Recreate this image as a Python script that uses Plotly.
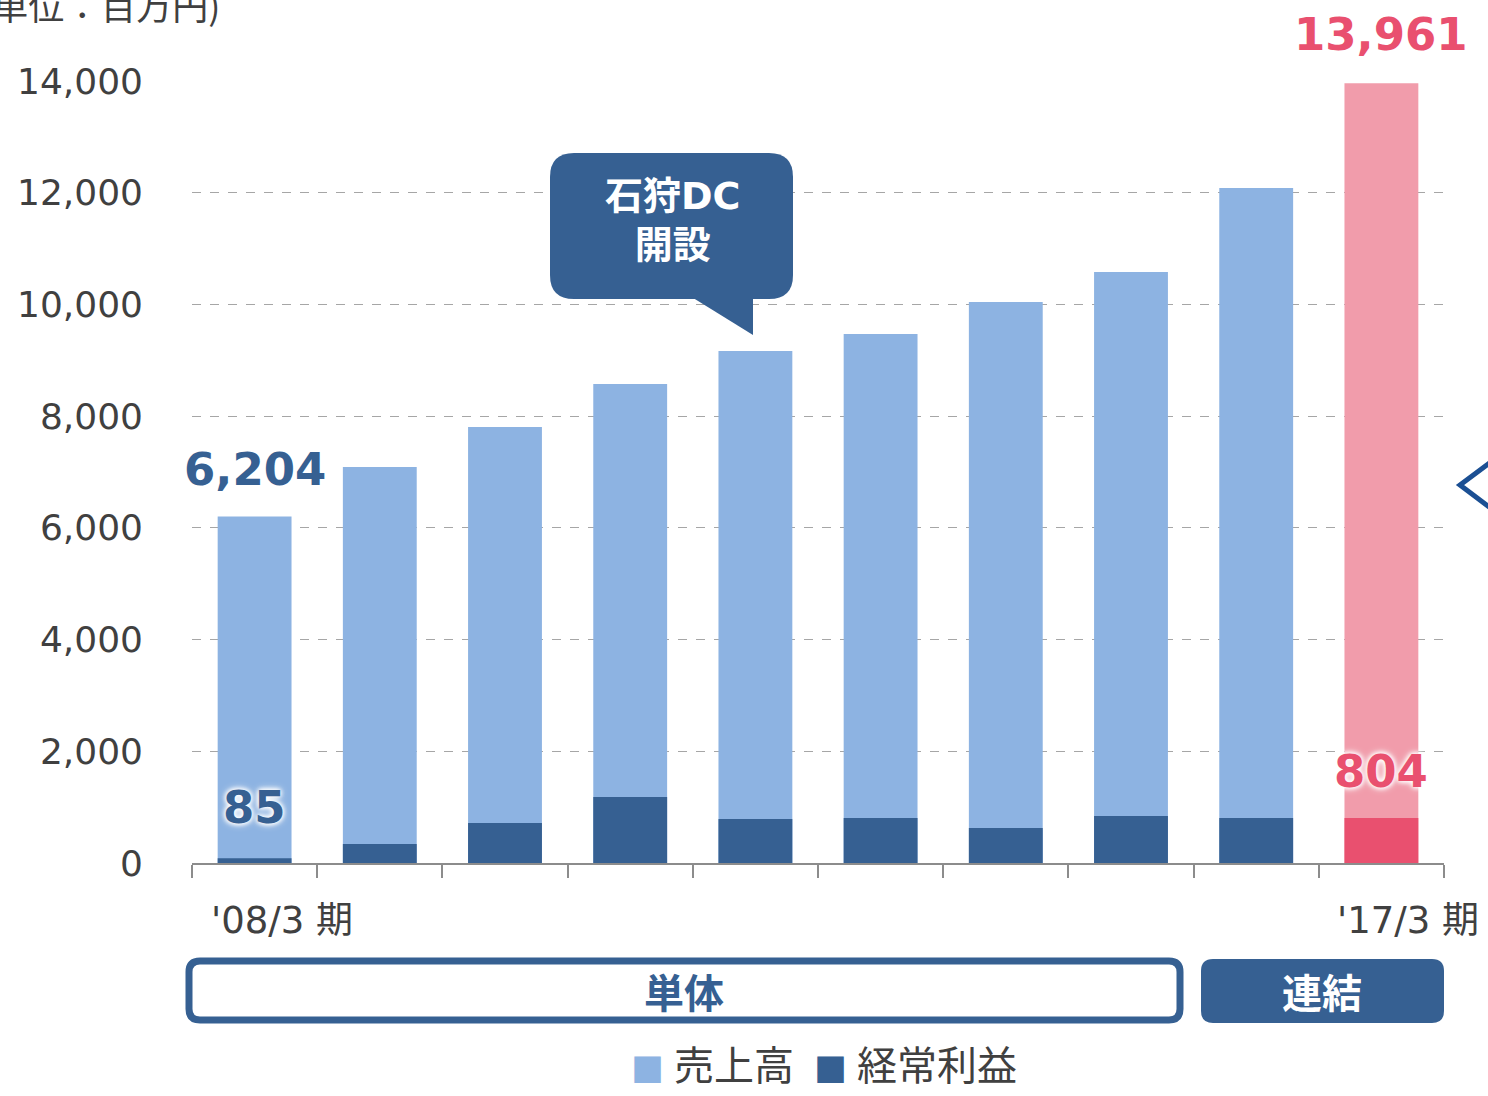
import plotly.graph_objects as go

# ---------------- data ----------------
periods = ["'08/3", "'09/3", "'10/3", "'11/3", "'12/3", "'13/3", "'14/3", "'15/3", "'16/3", "'17/3"]
sales = [6204, 7090, 7805, 8575, 9166, 9470, 10043, 10580, 12084, 13961]
ordinary_profit = [85, 340, 716, 1181, 788, 806, 627, 841, 806, 804]
y_ticks = [0, 2000, 4000, 6000, 8000, 10000, 12000, 14000]
segment_labels = ["単体", "連結"]
legend_labels = ["売上高", "経常利益"]
unit_label = "(単位：百万円)"
callout_label = "石狩DC<br>開設"

# ---------------- styles ----------------
LIGHT = "#8DB3E2"
DARK = "#366092"
PINK_L = "#F19CAB"
PINK_D = "#E9506F"
TXT = "#404040"
LAT = "DejaVu Sans, Noto Sans CJK JP, sans-serif"
CJK = "Noto Sans CJK JP, DejaVu Sans, sans-serif"

W, H = 1488, 1096
ML, MR, MT, MB = 192, 44, 81, 233
PW, PH = W - ML - MR, H - MT - MB


def px(x):
    return (x - ML) / PW


def py(y):
    return (H - MB - y) / PH


def rrect(x0, y0, x1, y1, r):
    pts = [
        f"M {px(x0 + r)},{py(y0)}",
        f"L {px(x1 - r)},{py(y0)}",
        f"Q {px(x1)},{py(y0)} {px(x1)},{py(y0 + r)}",
        f"L {px(x1)},{py(y1 - r)}",
        f"Q {px(x1)},{py(y1)} {px(x1 - r)},{py(y1)}",
        f"L {px(x0 + r)},{py(y1)}",
        f"Q {px(x0)},{py(y1)} {px(x0)},{py(y1 - r)}",
        f"L {px(x0)},{py(y0 + r)}",
        f"Q {px(x0)},{py(y0)} {px(x0 + r)},{py(y0)}",
        "Z",
    ]
    return " ".join(pts)


n = len(periods)
sales_colors = [LIGHT] * (n - 1) + [PINK_L]
profit_colors = [DARK] * (n - 1) + [PINK_D]

fig = go.Figure()
fig.add_trace(go.Bar(x=periods, y=sales, name=legend_labels[0], marker=dict(color=sales_colors, line=dict(width=0)),
                     width=0.59, showlegend=False, hoverinfo="x+y"))
fig.add_trace(go.Bar(x=periods, y=ordinary_profit, name=legend_labels[1],
                     marker=dict(color=profit_colors, line=dict(width=0)),
                     width=0.59, showlegend=False, hoverinfo="x+y"))

fig.update_layout(
    width=W, height=H, autosize=False,
    margin=dict(l=ML, r=MR, t=MT, b=MB, pad=0),
    paper_bgcolor="white", plot_bgcolor="white",
    barmode="overlay", bargap=0.41,
    font=dict(family=LAT, color=TXT, size=36),
)
fig.update_xaxes(
    type="category", categoryorder="array", categoryarray=periods,
    showticklabels=False, showgrid=False, zeroline=False,
    showline=True, linecolor="#8C8C8C", linewidth=2,
    ticks="outside", tickson="boundaries", ticklen=13, tickcolor="#8C8C8C", tickwidth=2,
    range=[-0.5, n - 0.5],
)
fig.update_yaxes(
    range=[0, 14000], tickvals=y_ticks, ticktext=[f"{v:,}" for v in y_ticks],
    showgrid=True, gridcolor="#A6A6A6", griddash="dash", gridwidth=1,
    zeroline=False, showline=False, ticks="",
    tickfont=dict(family=LAT, size=36, color=TXT),
    ticklabelstandoff=48,
)

C = dict(xanchor="center", yanchor="middle", showarrow=False)
ann = []
# value labels
ann.append(dict(x=periods[0], y=sales[0], text=f"{sales[0]:,}", yshift=47, **C,
                font=dict(family=LAT, size=45, color=DARK, weight="bold")))
ann.append(dict(x=periods[-1], y=sales[-1], text=f"{sales[-1]:,}", yshift=49, **C,
                font=dict(family=LAT, size=45, color=PINK_D, weight="bold")))
ann.append(dict(x=periods[0], y=ordinary_profit[0], text=f"{ordinary_profit[0]:,}", yshift=51, **C,
                font=dict(family=LAT, size=45, color=DARK, weight="bold",
                          shadow="0 0 5px white, 0 0 5px white, 0 0 8px white")))
ann.append(dict(x=periods[-1], y=ordinary_profit[-1], text=f"{ordinary_profit[-1]:,}", yshift=47, **C,
                font=dict(family=LAT, size=45, color=PINK_D, weight="bold",
                          shadow="0 0 5px white, 0 0 5px white, 0 0 8px white")))
# period labels
for p in (periods[0], periods[-1]):
    ann.append(dict(x=p, y=py(920), yref="paper", text=f"{p} 期", xshift=27, **C,
                    font=dict(family=LAT, size=37, color=TXT)))
# unit label (cut at top, as in the reference)
ann.append(dict(x=px(222), y=py(4), xref="paper", yref="paper", xanchor="right", yanchor="middle",
                text=unit_label, showarrow=False, font=dict(family=CJK, size=36, color=TXT)))
# callout text
ann.append(dict(x=px(672), y=py(220), xref="paper", yref="paper", text=callout_label, **C,
                font=dict(family=LAT, size=38, color="white", weight="bold")))
# segment labels
ann.append(dict(x=px(684), y=py(991), xref="paper", yref="paper", text=segment_labels[0], **C,
                font=dict(family=CJK, size=40, color=DARK, weight="bold")))
ann.append(dict(x=px(1322), y=py(991), xref="paper", yref="paper", text=segment_labels[1], **C,
                font=dict(family=CJK, size=40, color="white", weight="bold")))
# legend (marker squares + labels)
for sx, tx, col, lab in ((647, 672, LIGHT, legend_labels[0]), (830, 855, DARK, legend_labels[1])):
    ann.append(dict(x=px(sx), y=py(1068), xref="paper", yref="paper", text="■", **C,
                    font=dict(family=CJK, size=33, color=col)))
    ann.append(dict(x=px(tx), y=py(1063), xref="paper", yref="paper", text=lab, xanchor="left",
                    yanchor="middle", showarrow=False, font=dict(family=CJK, size=40, color=TXT)))
fig.update_layout(annotations=ann)

shapes = []
# callout bubble
shapes.append(dict(type="path", xref="paper", yref="paper", path=rrect(550, 153, 793, 299, 24),
                   fillcolor=DARK, line=dict(width=0), layer="above"))
shapes.append(dict(type="path", xref="paper", yref="paper",
                   path=f"M {px(690)},{py(296)} L {px(753)},{py(335)} L {px(753)},{py(296)} Z",
                   fillcolor=DARK, line=dict(width=0), layer="above"))
# segment boxes
shapes.append(dict(type="path", xref="paper", yref="paper", path=rrect(189, 961, 1180, 1020, 11),
                   fillcolor="white", line=dict(width=7, color=DARK), layer="above"))
shapes.append(dict(type="path", xref="paper", yref="paper", path=rrect(1201, 959, 1444, 1023, 12),
                   fillcolor=DARK, line=dict(width=0), layer="above"))
# partial chevron at right edge
shapes.append(dict(type="path", xref="paper", yref="paper",
                   path=f"M {px(1492)},{py(461)} L {px(1460)},{py(485)} L {px(1492)},{py(509)}",
                   line=dict(width=5, color="#1B4F93"), layer="above"))
fig.update_layout(shapes=shapes)

fig.write_html("out.html", config={"displayModeBar": False},
               post_script="document.body.style.margin='0';document.body.style.overflow='hidden';")
